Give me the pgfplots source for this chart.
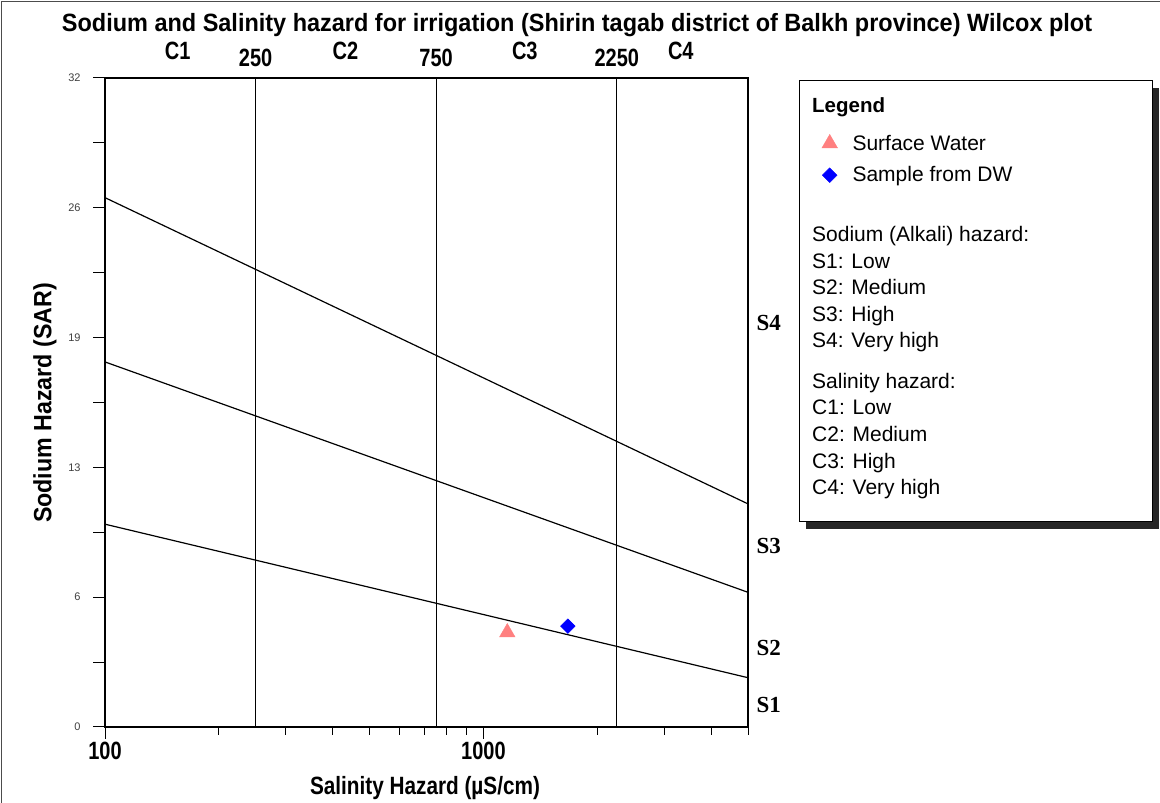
\documentclass[border=0pt]{standalone}
\usepackage{fontspec}
\setmainfont{Liberation Sans}
\newfontfamily\serifbf{Liberation Serif Bold}
\usepackage{graphicx}
\usepackage{pgfplots}
\pgfplotsset{compat=1.18}
\definecolor{swred}{RGB}{255,128,128}
\newcommand{\cond}[1]{\scalebox{0.8}[1]{\fontsize{25}{30}\selectfont\bfseries #1}}
\newcommand{\slab}[1]{{\serifbf\fontsize{23}{26}\selectfont #1}}
\begin{document}
\begin{tikzpicture}
\useasboundingbox (0,0) rectangle (1160pt,803pt);
\fill[white] (0,0) rectangle (1160pt,803pt);
\draw[line width=1.5pt, black!70] (1.5pt,0) -- (1.5pt,801.5pt) -- (1160pt,801.5pt);
% legend frame with shadow
\fill[black!85] (806pt,274pt) rectangle (1159pt,715pt);
\draw[line width=1pt, fill=white] (799pt,281pt) rectangle (1152pt,722pt);
% title and axis labels
\node at (577pt,778pt) {\resizebox{1030pt}{\height}{\fontsize{25}{30}\selectfont\bfseries Sodium and Salinity hazard for irrigation (Shirin tagab district of Balkh province) Wilcox plot}};
\node at (425pt,15pt) {\resizebox{230pt}{\height}{\fontsize{25}{30}\selectfont\bfseries Salinity Hazard (µS/cm)}};
\node[rotate=90] at (45pt,400pt) {\resizebox{240pt}{\height}{\fontsize{25}{30}\selectfont\bfseries Sodium Hazard (SAR)}};
\begin{axis}[
  at={(105pt,76pt)}, anchor=south west, scale only axis,
  width=643pt, height=649pt,
  xmode=log, xmin=100, xmax=5000, ymin=0, ymax=32,
  axis line style={line width=1.2pt},
  xtick={100,1000}, xticklabels={\cond{100},\cond{1000}},
  minor xtick={200,300,400,500,600,700,800,900,2000,3000,4000,5000},
  ytick={0,6.4,12.8,19.2,25.6,32}, yticklabels={0,6,13,19,26,32},
  minor ytick={3.2,9.6,16,22.4,28.8},
  tick align=outside, xtick pos=bottom, ytick pos=left,
  major tick length=12pt, minor tick length=12pt,
  minor x tick style={/pgfplots/minor tick length=8pt},
  every tick/.style={black, line width=1pt},
  yticklabel style={font=\fontsize{11}{13}\selectfont, text=black!75, xshift=-9pt},
  clip=false,
  legend style={at={(axis description cs:1.110,0.9185)}, anchor=north west, draw=none, fill=none,
    font=\fontsize{21}{24}\selectfont, row sep=11pt, /tikz/column 1/.style={column sep=13pt}},
  legend cell align=left,
]
\addplot[black, line width=1.2pt, forget plot] coordinates {(100,10) (5000,2.43)};
\addplot[black, line width=1.2pt, forget plot] coordinates {(100,18) (5000,6.64)};
\addplot[black, line width=1.2pt, forget plot] coordinates {(100,26.1) (5000,11.0)};
\addplot[black, line width=1.2pt, forget plot] coordinates {(250,0) (250,32)};
\addplot[black, line width=1.2pt, forget plot] coordinates {(750,0) (750,32)};
\addplot[black, line width=1.2pt, forget plot] coordinates {(2250,0) (2250,32)};
\addplot[only marks, mark=triangle*, mark size=9pt, color=swred, mark options={draw=swred, fill=swred}] coordinates {(1156,4.66)};
\addlegendentry{Surface Water}
\addplot[only marks, mark=square*, mark size=5.2pt, color=blue, mark options={rotate=45, draw=blue, fill=blue}] coordinates {(1671,4.97)};
\addlegendentry{Sample from DW}
% top labels
\node at (axis cs:155.6,32) [yshift=27pt] {\cond{C1}};
\node at (axis cs:250,32) [yshift=20pt] {\cond{250}};
\node at (axis cs:432,32) [yshift=27pt] {\cond{C2}};
\node at (axis cs:750,32) [yshift=20pt] {\cond{750}};
\node at (axis cs:1286,32) [yshift=27pt] {\cond{C3}};
\node at (axis cs:2250,32) [yshift=20pt] {\cond{2250}};
\node at (axis cs:3322,32) [yshift=27pt] {\cond{C4}};
% S labels
\node[anchor=west] at (axis cs:5000,19.9) [xshift=5pt] {\slab{S4}};
\node[anchor=west] at (axis cs:5000,8.9) [xshift=5pt] {\slab{S3}};
\node[anchor=west] at (axis cs:5000,3.9) [xshift=5pt] {\slab{S2}};
\node[anchor=west] at (axis cs:5000,1.1) [xshift=5pt] {\slab{S1}};
\end{axis}
% legend text
\node[anchor=base west, inner sep=0pt, font=\fontsize{20.5}{24}\selectfont\bfseries] at (812pt,690pt) {Legend};
\begin{scope}[every node/.style={anchor=base west, inner sep=0pt, font=\fontsize{21}{24}\selectfont}]
\node at (812pt,561pt) {Sodium (Alkali) hazard:};
\node at (812pt,534pt) {S1: Low};
\node at (812pt,508pt) {S2: Medium};
\node at (812pt,481pt) {S3: High};
\node at (812pt,455pt) {S4: Very high};
\node at (812pt,414pt) {Salinity hazard:};
\node at (812pt,388pt) {C1: Low};
\node at (812pt,361pt) {C2: Medium};
\node at (812pt,334pt) {C3: High};
\node at (812pt,308pt) {C4: Very high};
\end{scope}
\end{tikzpicture}
\end{document}
